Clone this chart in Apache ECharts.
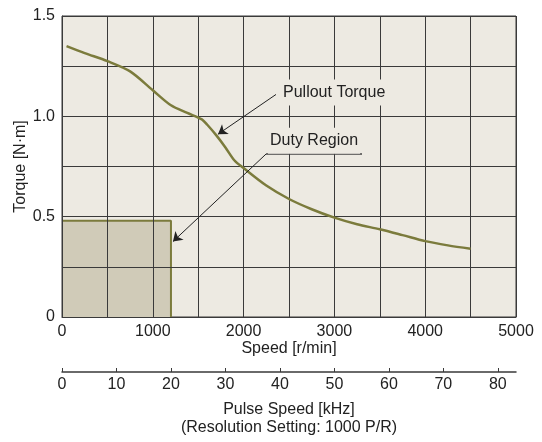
<!DOCTYPE html>
<html>
<head>
<meta charset="utf-8">
<script src="https://cdn.jsdelivr.net/npm/echarts@6/dist/echarts.min.js"></script>
<style>
  html, body { margin: 0; padding: 0; background: #fff; }
  #chart { width: 542px; height: 442px; }
</style>
</head>
<body>
<div id="chart"></div>
<script>
// pullout torque curve
const speed = [50, 250, 500, 750, 1000, 1200, 1380, 1540, 1600, 1700, 1800, 1900, 2000, 2250, 2500, 2750, 3000, 3250, 3500, 3750, 4000, 4250, 4500]
const torque = [1.35, 1.315, 1.275, 1.224, 1.13, 1.055, 1.017, 0.985, 0.958, 0.905, 0.845, 0.78, 0.742, 0.655, 0.588, 0.537, 0.495, 0.462, 0.437, 0.408, 0.378, 0.357, 0.34]

// duty region outline
const dutySpeed = [0, 1200, 1200]
const dutyTorque = [0.48, 0.48, 0]

// pulse speed axis ticks (kHz)
const pulseTicks = [0, 10, 20, 30, 40, 50, 60, 70, 80]
const pulseMax = 5000 * 1000 / 60 / 1000

// annotation anchors [speed, torque]
const pulloutLabel = [2412, 1.119]
const pulloutArrow = [[2357, 1.109], [1718, 0.911]]
const dutyLabel = [2269, 0.878]
const dutyUnderline = [[2247, 0.812], [3304, 0.812]]
const dutyArrow = [[2247, 0.812], [1222, 0.376]]

const FONT = 'Liberation Sans, Arial, sans-serif'
const OLIVE = '#7b7b3c'
const GRIDC = '#3a3a3a'
const TXT = '#222'

const chart = echarts.init(document.getElementById('chart'))

const zip = (a, b) => a.map((v, i) => [v, b[i]])

chart.setOption({
  animation: false,
  textStyle: { fontFamily: FONT },
  grid: {
    left: 62, right: 26, top: 16, bottom: 123,
    show: true,
    backgroundColor: '#edeae2',
    borderColor: GRIDC,
    borderWidth: 1,
    z: 0
  },
  xAxis: [
    {
      type: 'value',
      z: 2,
      min: 0, max: 5000, interval: 500,
      name: 'Speed [r/min]',
      nameLocation: 'middle',
      nameGap: 24,
      nameMoveOverlap: false,
      nameTextStyle: { fontSize: 16, color: TXT },
      axisLine: { show: true, lineStyle: { color: GRIDC } },
      axisTick: { show: false },
      axisLabel: {
        fontSize: 16, color: TXT, margin: 7,
        formatter: v => (v % 1000 === 0 ? String(v) : '')
      },
      splitLine: { show: true, lineStyle: { color: GRIDC, width: 1 } }
    },
    {
      type: 'value',
      z: 2,
      position: 'bottom',
      offset: 55,
      min: 0, max: pulseMax,
      name: 'Pulse Speed [kHz]\n(Resolution Setting: 1000 P/R)',
      nameLocation: 'middle',
      nameGap: 29,
      nameMoveOverlap: false,
      nameTextStyle: { fontSize: 16, color: TXT, lineHeight: 18 },
      axisLine: { show: true, lineStyle: { color: GRIDC, width: 1.5 } },
      axisTick: { show: true, inside: true, length: 4, customValues: pulseTicks, lineStyle: { color: GRIDC } },
      axisLabel: { fontSize: 16, color: TXT, margin: 5, customValues: pulseTicks },
      splitLine: { show: false }
    }
  ],
  yAxis: {
    type: 'value',
    z: 2,
    min: 0, max: 1.5, interval: 0.25,
    name: 'Torque [N·m]',
    nameLocation: 'middle',
    nameGap: 33,
    nameMoveOverlap: false,
    nameTextStyle: { fontSize: 16, color: TXT },
    axisLine: { show: true, lineStyle: { color: GRIDC } },
    axisTick: { show: false },
    axisLabel: {
      fontSize: 16, color: TXT, margin: 7,
      formatter: v => {
        if (Math.abs(v * 2 - Math.round(v * 2)) > 1e-6) return ''
        return v === 0 ? '0' : v.toFixed(1)
      }
    },
    splitLine: { show: true, lineStyle: { color: GRIDC, width: 1 } }
  },
  series: [
    {
      name: 'Duty Region',
      type: 'line',
      z: 1,
      data: zip(dutySpeed, dutyTorque),
      symbol: 'none',
      lineStyle: { color: OLIVE, width: 2 },
      areaStyle: { color: '#d0cbb8', opacity: 1 },
      silent: true
    },
    {
      name: 'Pullout Torque',
      type: 'line',
      z: 3,
      data: zip(speed, torque),
      smooth: 0.3,
      symbol: 'none',
      lineStyle: { color: OLIVE, width: 2.5 },
      silent: true
    },
    {
      name: 'notes',
      type: 'line',
      z: 4,
      data: [],
      silent: true,
      markLine: {
        silent: true,
        symbol: ['none', 'arrow'],
        symbolSize: 9,
        label: { show: false },
        lineStyle: { color: '#222', width: 1, type: 'solid' },
        data: [
          [{ coord: pulloutArrow[0] }, { coord: pulloutArrow[1] }],
          [{ coord: dutyArrow[0] }, { coord: dutyArrow[1] }],
          [{ coord: dutyUnderline[0], symbol: 'none' }, { coord: dutyUnderline[1], symbol: 'none', lineStyle: { color: '#444', width: 1.5 } }]
        ]
      },
      markPoint: {
        silent: true,
        symbol: 'circle',
        symbolSize: 0,
        label: {
          show: true,
          position: 'right',
          distance: 0,
          formatter: '{b}',
          fontSize: 16,
          color: TXT,
          backgroundColor: '#edeae2',
          padding: [5, 2]
        },
        data: [
          { name: 'Pullout Torque', coord: pulloutLabel },
          { name: 'Duty Region', coord: dutyLabel }
        ]
      }
    }
  ]
})
</script>
</body>
</html>
